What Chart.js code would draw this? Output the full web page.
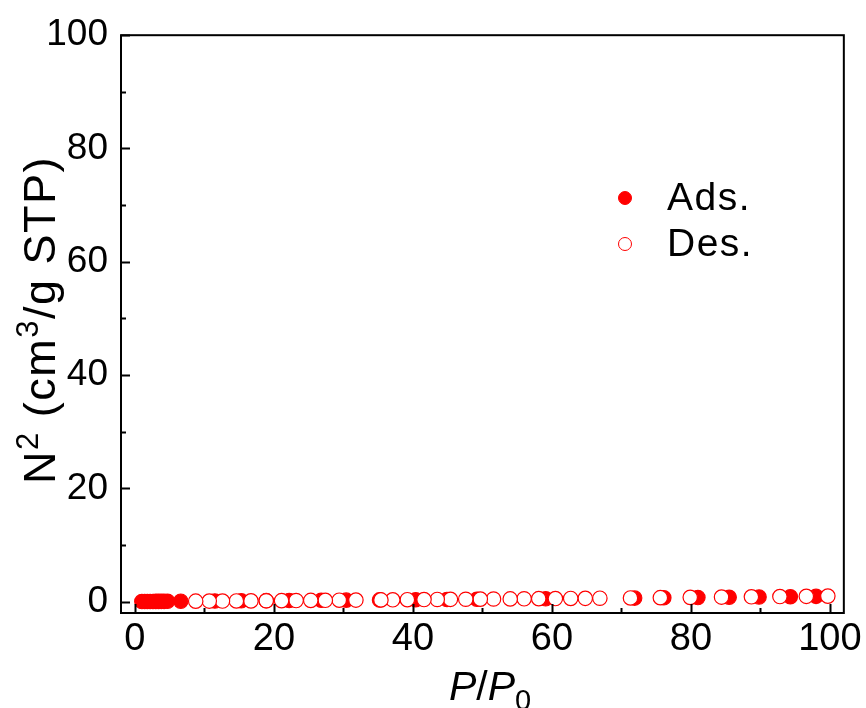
<!DOCTYPE html>
<html>
<head>
<meta charset="utf-8">
<script src="https://cdn.jsdelivr.net/npm/chart.js@4.4.1/dist/chart.umd.min.js"></script>
<style>
  html, body { margin: 0; padding: 0; background: #ffffff; }
  #wrap { width: 866px; height: 708px; }
</style>
</head>
<body>
<div id="wrap"><canvas id="chart" width="866" height="708"></canvas></div>
<script>
// N2 sorption isotherm: adsorption branch (filled) and desorption branch (open)
const adsP = [1.0, 1.4, 1.8, 2.2, 2.6, 3.0, 3.4, 3.8, 4.2, 4.7, 6.6, 11.5, 15.3, 18.9, 22.2, 26.8, 30.4,
              35.2, 40.4, 44.9, 49.2, 59.1, 71.9, 76.1, 81.0, 85.5, 89.8, 94.3, 98.0];
const adsV = [0.02, 0.03, 0.03, 0.04, 0.04, 0.05, 0.05, 0.06, 0.06, 0.07, 0.08, 0.12, 0.15, 0.18, 0.21, 0.24, 0.27,
              0.31, 0.35, 0.39, 0.43, 0.51, 0.63, 0.68, 0.73, 0.78, 0.83, 0.88, 0.94];
const desP = [99.7, 96.6, 92.8, 88.7, 84.4, 79.9, 75.6, 71.3, 66.9, 64.8, 62.7, 60.5, 58.1, 56.0, 54.0, 51.6,
              49.7, 47.6, 45.4, 43.5, 41.6, 39.2, 37.1, 35.4, 31.8, 29.4, 27.4, 25.3, 23.2, 21.1, 18.9, 16.7,
              14.6, 12.6, 10.7, 8.75];
const desV = [0.98, 0.94, 0.90, 0.86, 0.81, 0.76, 0.71, 0.66, 0.61, 0.59, 0.57, 0.55, 0.53, 0.51, 0.49, 0.47,
              0.45, 0.43, 0.41, 0.39, 0.37, 0.35, 0.33, 0.31, 0.28, 0.26, 0.24, 0.22, 0.20, 0.18, 0.16, 0.14,
              0.13, 0.11, 0.10, 0.09];
const seriesNames = ['Ads.', 'Des.'];
const xTicks = [0, 10, 20, 30, 40, 50, 60, 70, 80, 90, 100];
const yTicks = [0, 10, 20, 30, 40, 50, 60, 70, 80, 90, 100];
const labelStep = 20;

const RED = '#ff0000';
const FONT = '"Liberation Sans", Arial, sans-serif';

function pts(xs, ys) { return xs.map((x, i) => ({ x: x, y: ys[i] })); }

// frame, inward tick marks, legend and axis titles with sub/superscripts
const decor = {
  id: 'decor',
  afterDatasetsDraw(chart) {
    const { ctx, chartArea: a, scales } = chart;
    const xs = scales.x, ys = scales.y;
    ctx.save();
    ctx.strokeStyle = '#000';
    ctx.lineWidth = 2;
    ctx.strokeRect(a.left, a.top, a.right - a.left, a.bottom - a.top);
    ctx.beginPath();
    xTicks.forEach(v => {
      const px = Math.round(xs.getPixelForValue(v)) + 0.5;
      const len = v % labelStep === 0 ? 9 : 5;
      ctx.moveTo(px, a.bottom); ctx.lineTo(px, a.bottom - len);
    });
    yTicks.forEach(v => {
      const py = Math.round(ys.getPixelForValue(v)) + 0.5;
      const len = v % labelStep === 0 ? 9 : 5;
      ctx.moveTo(a.left, py); ctx.lineTo(a.left + len, py);
    });
    ctx.stroke();

    // legend
    const ds = chart.data.datasets;
    const rows = [{ d: ds[1], y: 198 }, { d: ds[0], y: 244 }];
    ctx.letterSpacing = '1.5px';
    rows.forEach(r => {
      ctx.beginPath();
      ctx.arc(625, r.y, 6.5, 0, Math.PI * 2);
      ctx.fillStyle = r.d.backgroundColor;
      ctx.fill();
      ctx.lineWidth = 1;
      ctx.strokeStyle = r.d.borderColor;
      ctx.stroke();
      ctx.fillStyle = '#000';
      ctx.font = '39px ' + FONT;
      ctx.textBaseline = 'middle';
      ctx.textAlign = 'left';
      ctx.fillText(r.d.label, 667, r.y + 1);
    });
    ctx.letterSpacing = '0px';

    // x title: P/P0
    ctx.fillStyle = '#000';
    ctx.textBaseline = 'alphabetic';
    const big = 41, small = 29;
    const xParts = [
      { t: 'P', f: 'italic ' + big + 'px ' + FONT, dy: 0 },
      { t: '/', f: big + 'px ' + FONT, dy: 0 },
      { t: 'P', f: 'italic ' + big + 'px ' + FONT, dy: 0 },
      { t: '0', f: small + 'px ' + FONT, dy: 10 }
    ];
    let w = 0;
    xParts.forEach(p => { ctx.font = p.f; w += ctx.measureText(p.t).width; });
    let x0 = 490 - w / 2;
    xParts.forEach(p => { ctx.font = p.f; ctx.fillText(p.t, x0, 700 + p.dy); x0 += ctx.measureText(p.t).width; });

    // y title: N2 (cm3/g STP), rotated
    const tb = 45, ts = 31;
    ctx.letterSpacing = '1.5px';
    const yParts = [
      { t: 'N', f: tb + 'px ' + FONT, dy: 0 },
      { t: '2', f: ts + 'px ' + FONT, dy: -17 },
      { t: ' (cm', f: tb + 'px ' + FONT, dy: 0 },
      { t: '3', f: ts + 'px ' + FONT, dy: -17 },
      { t: '/g STP)', f: tb + 'px ' + FONT, dy: 0 }
    ];
    w = 0;
    yParts.forEach(p => { ctx.font = p.f; w += ctx.measureText(p.t).width; });
    ctx.translate(55, 320);
    ctx.rotate(-Math.PI / 2);
    x0 = -w / 2;
    yParts.forEach(p => { ctx.font = p.f; ctx.fillText(p.t, x0, p.dy); x0 += ctx.measureText(p.t).width; });
    ctx.restore();
  }
};

new Chart(document.getElementById('chart'), {
  type: 'scatter',
  data: {
    datasets: [
      {
        label: seriesNames[1], data: pts(desP, desV), order: 0,
        backgroundColor: '#ffffff', borderColor: RED, borderWidth: 1.2,
        pointRadius: 7.2, pointHoverRadius: 7.2
      },
      {
        label: seriesNames[0], data: pts(adsP, adsV), order: 1,
        backgroundColor: RED, borderColor: RED, borderWidth: 1.2,
        pointRadius: 7.2, pointHoverRadius: 7.2
      }
    ]
  },
  options: {
    responsive: false,
    animation: false,
    devicePixelRatio: 1,
    layout: { padding: { top: 31, right: 19, left: 0, bottom: 0 } },
    plugins: { legend: { display: false }, tooltip: { enabled: false } },
    scales: {
      x: {
        type: 'linear', min: -2, max: 102,
        grid: { display: false, drawTicks: false },
        border: { display: false },
        afterBuildTicks: s => { s.ticks = xTicks.map(v => ({ value: v })); },
        afterFit: s => { s.height = 95; },
        ticks: {
          autoSkip: false, maxRotation: 0, padding: 4, color: '#000',
          font: { family: FONT, size: 38 },
          callback: v => (v % labelStep === 0 ? String(v) : '')
        }
      },
      y: {
        type: 'linear', min: -2, max: 100,
        grid: { display: false, drawTicks: false },
        border: { display: false },
        afterBuildTicks: s => { s.ticks = yTicks.map(v => ({ value: v })); },
        afterFit: s => { s.width = 121; },
        ticks: {
          autoSkip: false, padding: 13, color: '#000',
          font: { family: FONT, size: 37 },
          callback: v => (v % labelStep === 0 ? String(v) : '')
        }
      }
    }
  },
  plugins: [decor]
});
</script>
</body>
</html>
